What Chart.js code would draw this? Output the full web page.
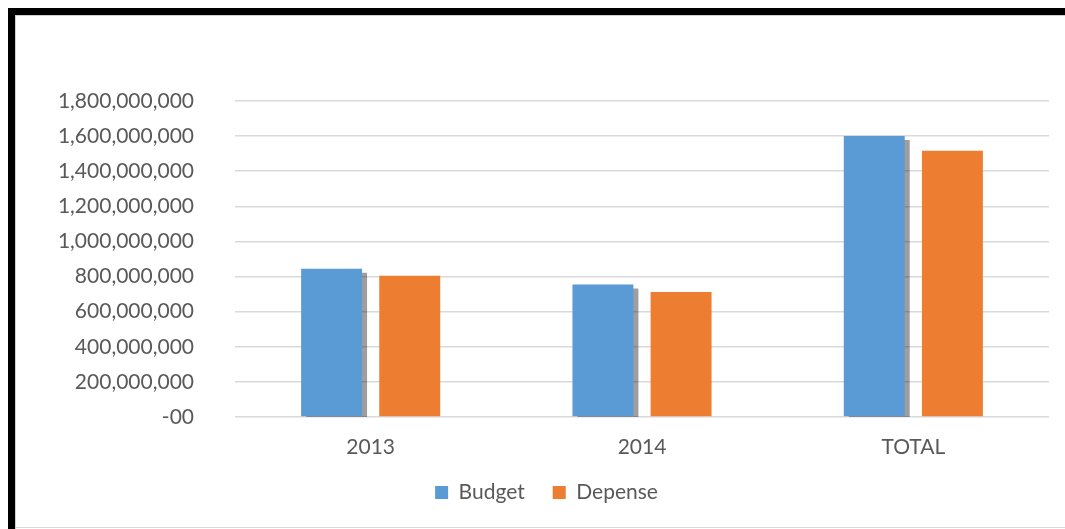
<!DOCTYPE html>
<html>
<head>
<meta charset="utf-8">
<script src="https://cdn.jsdelivr.net/npm/chart.js@4"></script>
<style>
  html, body { margin: 0; padding: 0; background: #ffffff; }
  body { width: 1065px; height: 529px; position: relative; overflow: hidden; }
  .frame-top { position: absolute; left: 8px; top: 8px; width: 1057px; height: 7px; background: #000; }
  .frame-left { position: absolute; left: 8px; top: 8px; width: 7px; height: 521px; background: #000; }
  .frame-in-top { position: absolute; left: 15px; top: 15px; width: 1050px; height: 1px; background: #cfcfcf; }
  .frame-in-left { position: absolute; left: 15px; top: 15px; width: 1px; height: 514px; background: #cfcfcf; }
  .frame-bottom { position: absolute; left: 15px; top: 527px; width: 1050px; height: 1px; background: #d9d9d9; }
  #wrap { position: absolute; left: 16px; top: 16px; width: 1049px; height: 511px; }
</style>
</head>
<body>
<div class="frame-top"></div>
<div class="frame-left"></div>
<div class="frame-in-top"></div>
<div class="frame-in-left"></div>
<div class="frame-bottom"></div>
<div id="wrap"><canvas id="chart"></canvas></div>

<script>
// Données
const categories = ["2013", "2014", "TOTAL"];
const budget = [845000000, 755000000, 1600000000];
const depense = [805000000, 712000000, 1517000000];

const COLORS = { blue: "#5B9BD5", orange: "#ED7D31", text: "#595959", grid: "#D9D9D9" };
const FONT = "Lato, 'Open Sans', sans-serif";

// Ombre grise décalée sous les barres "Budget"
const barShadow = {
  id: "barShadow",
  beforeDatasetDraw(chart, args) {
    if (args.index !== 0) return;
    const ctx = chart.ctx;
    ctx.save();
    ctx.shadowColor = "rgba(0,0,0,0.38)";
    ctx.shadowOffsetX = 5;
    ctx.shadowOffsetY = 4;
    ctx.shadowBlur = 0;
  },
  afterDatasetDraw(chart, args) {
    if (args.index !== 0) return;
    chart.ctx.restore();
  }
};

new Chart(document.getElementById("chart").getContext("2d"), {
  type: "bar",
  data: {
    labels: categories,
    datasets: [
      { label: "Budget", data: budget, backgroundColor: COLORS.blue, categoryPercentage: 0.576, barPercentage: 0.78 },
      { label: "Depense", data: depense, backgroundColor: COLORS.orange, categoryPercentage: 0.576, barPercentage: 0.78 }
    ]
  },
  plugins: [barShadow],
  options: {
    responsive: true,
    maintainAspectRatio: false,
    animation: false,
    layout: { padding: { left: 28, right: 16, top: 85, bottom: 14 } },
    plugins: {
      tooltip: { enabled: false },
      legend: {
        position: "bottom",
        labels: {
          boxWidth: 13,
          boxHeight: 13,
          padding: 28,
          color: COLORS.text,
          font: { family: FONT, size: 21 }
        }
      }
    },
    scales: {
      x: {
        afterFit: (scale) => { scale.height = 37; },
        grid: { display: false },
        border: { display: false },
        ticks: { color: COLORS.text, padding: 10, font: { family: FONT, size: 21 } }
      },
      y: {
        min: 0,
        max: 1800000000,
        afterFit: (scale) => { scale.width = 191; },
        border: { display: false },
        grid: { color: COLORS.grid, lineWidth: 1.5, drawTicks: false },
        ticks: {
          stepSize: 200000000,
          padding: 41,
          color: COLORS.text,
          font: { family: FONT, size: 21 },
          callback: (value) => value === 0 ? "-00" : value.toLocaleString("en-US")
        }
      }
    }
  }
});
</script>
</body>
</html>
